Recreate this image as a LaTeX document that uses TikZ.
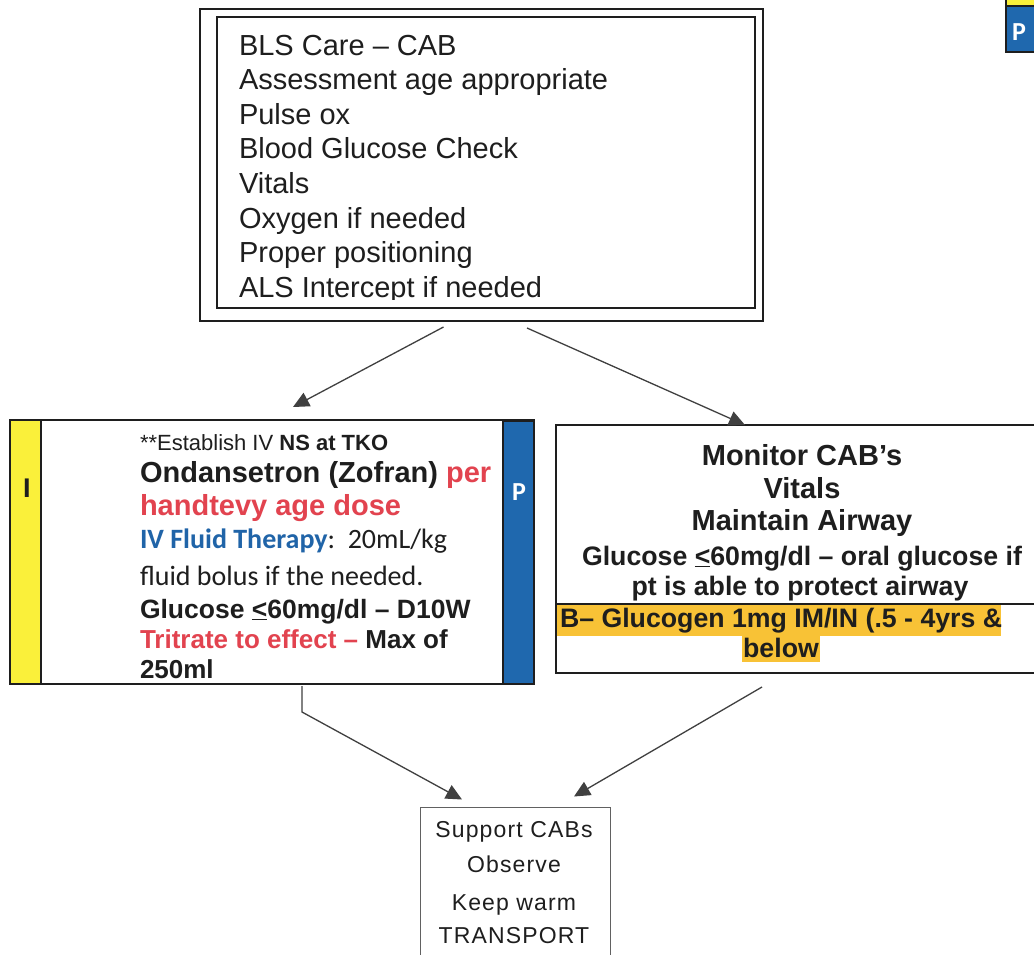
\documentclass[tikz,border=0pt]{standalone}
\usepackage{fontspec}
\setmainfont{Liberation Sans}
\newfontfamily\calibri{Carlito}
\usetikzlibrary{arrows.meta}

\definecolor{ink}{HTML}{1E1E1E}
\definecolor{stripeyellow}{HTML}{FAF03A}
\definecolor{stripeblue}{HTML}{1F68AE}
\definecolor{alert}{HTML}{E2434F}
\definecolor{linkblue}{HTML}{2064A8}
\definecolor{hilite}{HTML}{F8C236}

\newcommand\fs[1]{\fontsize{#1}{#1}\selectfont}

\tikzset{
  frame/.style={draw=ink, line width=2pt, inner sep=0pt, outer sep=0pt},
  txt/.style={inner sep=0pt, outer sep=0pt, anchor=base west, text=ink},
  ctxt/.style={inner sep=0pt, outer sep=0pt, anchor=base, text=ink},
  tablabel/.style={ctxt, text=white, font=\calibri\fs{26}\bfseries},
  arr/.style={draw=ink!85, line width=1.3pt, -{Triangle[length=16pt,width=15pt]}},
}

\begin{document}
\begin{tikzpicture}[x=1pt,y=-1pt]
\useasboundingbox (0,0) rectangle (1034,954);
\fill[white] (0,0) rectangle (1034,954);

% ---------- BLS care box (double frame) ----------
\node[frame, line width=2.4pt, minimum width=563pt, minimum height=312pt] (bls) at (481.5,165) {};
\node[frame, line width=1.3pt, minimum width=538pt, minimum height=291pt] (blsin) at (486,162.5) {};
\begin{scope}
  \clip (0,0) rectangle (1034,299.5);
  \foreach \t [count=\i] in {BLS Care – CAB, Assessment age appropriate, Pulse ox,
      Blood Glucose Check, Vitals, Oxygen if needed, Proper positioning, ALS Intercept if needed}
    \node[txt, font=\fs{29}] (blsline\i) at (239,{55+(\i-1)*34.6}) {\t};
\end{scope}

% ---------- intermediate / paramedic box ----------
\node[frame, minimum width=524pt, minimum height=264pt] (ivbox) at (272,552) {};
\node[frame, fill=stripeyellow, minimum width=31pt, minimum height=264pt] (istripe) at (25.5,552) {};
\node[frame, fill=stripeblue, minimum width=31pt, minimum height=263pt] (pstripe) at (518.5,552.5) {};
\node[ctxt, font=\fs{27}\bfseries] (ilabel) at (27,497) {I};
\node[tablabel] (plabel) at (519,500) {P};

\node[txt, font=\fs{22}] (iv1) at (140,450) {**Establish IV \textbf{NS at TKO}};
\node[txt, font=\fs{29}\bfseries] (iv2) at (140,482) {Ondansetron (Zofran) \textcolor{alert}{per}};
\node[txt, font=\fs{29}\bfseries, text=alert] (iv3) at (140,515) {handtevy age dose};
\node[txt, font=\calibri\fs{28}] (iv4) at (140,548) {\textcolor{linkblue}{\bfseries IV Fluid Therapy}:\ \ 20mL/kg};
\node[txt, font=\calibri\fs{28}] (iv5) at (140,585) {fluid bolus if the needed.};
\node[txt, font=\fs{26.5}\bfseries] (iv6) at (140,618) {Glucose \underline{<}60mg/dl – D10W};
\node[txt, font=\fs{26}\bfseries] (iv7) at (140,648) {\textcolor{alert}{Tritrate to effect –} Max of};
\node[txt, font=\fs{26}\bfseries] (iv8) at (140,678) {250ml};

% ---------- BLS monitoring box ----------
\node[frame, minimum width=488pt, minimum height=248pt] (mon) at (800,549) {};
\fill[hilite] (557,605) rectangle (1001,636);
\fill[hilite] (742,636) rectangle (820,662);
\draw[ink, line width=1.5pt] (556,604) -- (1044,604);
\node[ctxt, font=\fs{29}\bfseries] (mon1) at (802,465) {Monitor CAB’s};
\node[ctxt, font=\fs{29}\bfseries] (mon2) at (802,498) {Vitals};
\node[ctxt, font=\fs{29}\bfseries] (mon3) at (802,530) {Maintain Airway};
\node[ctxt, font=\fs{26.7}\bfseries] (mon4) at (802,565) {Glucose \underline{<}60mg/dl – oral glucose if};
\node[ctxt, font=\fs{26.7}\bfseries] (mon5) at (800,595) {pt is able to protect airway};
\node[txt, font=\fs{26.7}\bfseries] (mon6) at (560,627) {B– Glucogen 1mg IM/IN (.5 - 4yrs \&};
\node[ctxt, font=\fs{26.7}\bfseries] (mon7) at (781,657) {below};

% ---------- paramedic tab at the page corner ----------
\node[frame, fill=stripeyellow, minimum width=40pt, minimum height=14pt] (ystub) at (1026,-1) {};
\node[frame, fill=stripeblue, minimum width=40pt, minimum height=46pt] (pstub) at (1026,29) {};
\node[tablabel] (pstublabel) at (1019,40) {P};

% ---------- final care box ----------
\node[draw=ink!70, line width=1pt, inner sep=0pt, minimum width=190pt, minimum height=170pt] (sup) at (515,892) {};
\begin{scope}[every node/.append style={ctxt, font=\fs{23}\addfontfeature{LetterSpace=5}}]
  \node (sup1) at (514,837) {Support CABs};
  \node (sup2) at (514,872) {Observe};
  \node (sup3) at (514,910) {Keep warm};
  \node (sup4) at (514,943) {TRANSPORT};
\end{scope}

% ---------- connectors ----------
\draw[arr] ([shift={(-38,6)}]bls.south) -- ([shift={(21,-13)}]ivbox.north);
\draw[arr] ([shift={(45.5,7)}]bls.south) -- ([shift={(-55,0)}]mon.north);
\draw[arr] ([shift={(30,2)}]ivbox.south) -- ++(0,26) -- ([shift={(-53,-7)}]sup.north);
\draw[arr] ([shift={(-38,14)}]mon.south) -- ([shift={(59,-10)}]sup.north);
\end{tikzpicture}
\end{document}
